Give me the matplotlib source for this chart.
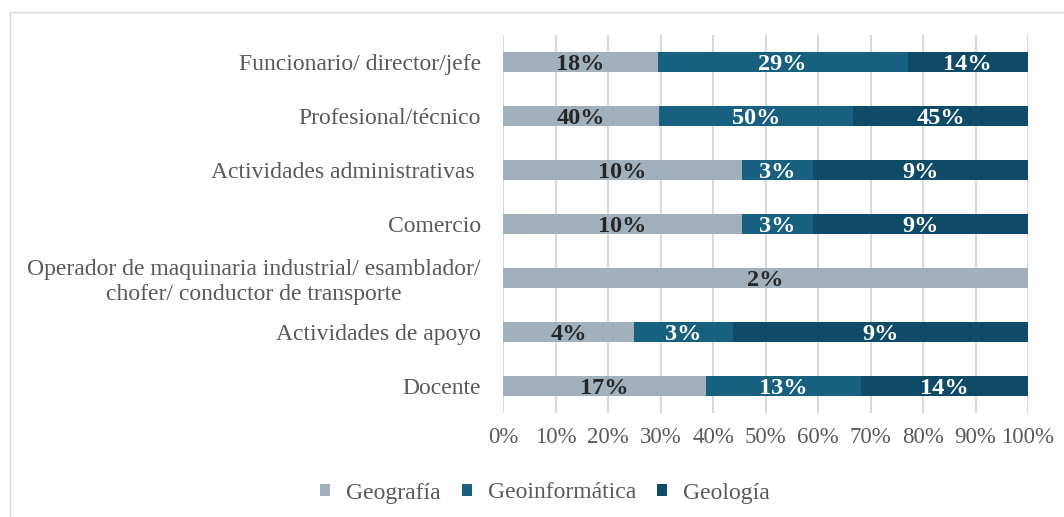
import matplotlib
matplotlib.use("Agg")
import matplotlib.pyplot as plt
import numpy as np
from matplotlib.patches import Rectangle

categories = ["Funcionario/ director/jefe", "Profesional/técnico", "Actividades administrativas ",
              "Comercio", "Operador de maquinaria industrial/ esamblador/\nchofer/ conductor de transporte",
              "Actividades de apoyo", "Docente"]
geografia = [18, 40, 10, 10, 2, 4, 17]
geoinformatica = [29, 50, 3, 3, 0, 3, 13]
geologia = [14, 45, 9, 9, 0, 9, 14]
series_names = ["Geografía", "Geoinformática", "Geología"]
colors = ["#A2B0BC", "#17607F", "#0F4B66"]
text_colors = ["#262626", "white", "white"]

plt.rcParams['font.family'] = ['Liberation Serif', 'DejaVu Serif']

fig = plt.figure(figsize=(10.64, 5.17), dpi=100)
ax = fig.add_axes([503/1064, 1-413/517, (1028-503)/1064, (413-35)/517])

data = np.array([geografia, geoinformatica, geologia], dtype=float)
totals = data.sum(axis=0)
shares = data / totals
y = np.arange(len(categories))
left = np.zeros(len(categories))
for i in range(3):
    ax.barh(y, shares[i], left=left, height=0.38, color=colors[i], label=series_names[i], zorder=3)
    for j in range(len(categories)):
        if data[i, j] > 0:
            ax.text(left[j] + shares[i, j]/2, y[j] + 0.04, f"{int(data[i, j])}%", ha="center", va="center",
                    fontsize=17.5, fontweight="bold", color=text_colors[i], zorder=4)
    left += shares[i]

ax.set_ylim(len(categories)-0.5, -0.5)
ax.set_xlim(0, 1)
ax.set_xticks(np.linspace(0, 1, 11))
ax.set_xticklabels([f"{k}%" for k in range(0, 101, 10)], fontsize=16.5, color="#595959")
ax.set_yticks(y)
ax.set_yticklabels(categories, fontsize=17, color="#595959", ha="right", multialignment="center")
ax.tick_params(axis="y", length=0, pad=16)
ax.tick_params(axis="x", length=0, pad=10)
ax.xaxis.grid(True, color="#D9D9D9", linewidth=1.5, zorder=0)
for s in ax.spines.values():
    s.set_visible(False)

leg = fig.legend(loc="center", bbox_to_anchor=(545/1064, 1-493/517), ncol=3, frameon=False,
                 fontsize=17, handlelength=0.42, handleheight=0.42, columnspacing=0.9, handletextpad=0.68)
for t in leg.get_texts():
    t.set_color("#595959")

fig.patches.append(Rectangle((10/1064, -0.01), 1.2, 1-12/517+0.01, transform=fig.transFigure,
                             fill=False, edgecolor="#D9D9D9", linewidth=1))
fig.savefig("out.png", dpi=100)
